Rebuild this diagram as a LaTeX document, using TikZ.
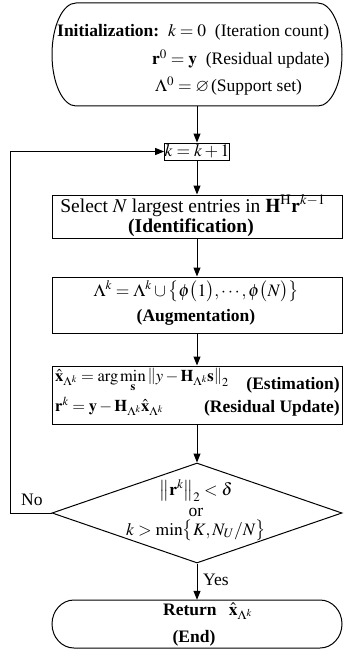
\documentclass[tikz,border=0pt]{standalone}
\usepackage{mathptmx}
\usepackage{amssymb}
\usepackage{fontspec}
\setmainfont{Liberation Serif}
\usetikzlibrary{arrows.meta,shapes.geometric}
\begin{document}
\begin{tikzpicture}[x=1pt,y=-1pt,
  every node/.style={font=\fontsize{17.5}{20}\selectfont, inner sep=0pt},
  bigtext/.style={font=\fontsize{19.5}{22}\selectfont},
  line/.style={line width=1pt},
  arr/.style={line width=1pt,-{Triangle[length=9pt,width=7pt]}},
  procbox/.style={draw, line width=1pt, minimum width=290pt},
  anchorbox/.style={minimum width=290pt}]
\useasboundingbox (0,0) rectangle (343,650);

% start terminal
\draw[line] (76,3) -- (318,3) arc[start angle=-90,end angle=90,x radius=24,y radius=51.5]
  -- (76,106) arc[start angle=90,end angle=270,x radius=24,y radius=51.5] -- cycle;
\node[anchorbox, minimum height=103pt] (start) at (197,54.5) {};
\node[anchor=base west] (s1) at (57,37) {\textbf{Initialization:}\enspace$k=0$\enspace(Iteration count)};
\node[anchor=base west] (s2) at (152,65) {$\mathbf{r}^{0}=\mathbf{y}$\enspace(Residual update)};
\node[anchor=base west] (s3) at (155,92) {$\Lambda^{0}=\varnothing\,$(Support set)};

% k = k+1
\node[draw, line width=1pt, minimum width=64pt, minimum height=17pt] (kk) at (197,151.5) {$k=k+1$};

% identification
\node[procbox, minimum height=43pt] (sel) at (197,216.5) {};
\node[anchor=base, bigtext] (sel1) at (193,212) {Select $N$ largest entries in $\mathbf{H}^{\mathrm{H}}\mathbf{r}^{k-1}$};
\node[anchor=base, bigtext] (sel2) at (191,232) {\textbf{(Identification)}};

% augmentation
\node[procbox, minimum height=56pt] (aug) at (197,305) {};
\node[anchor=base] (aug1) at (196,296) {$\Lambda^{k}=\Lambda^{k}\cup\bigl\{\phi\bigl(1\bigr),\cdots,\phi\bigl(N\bigr)\bigr\}$};
\node[anchor=base] (aug2) at (196,321) {\textbf{(Augmentation)}};

% estimation
\node[procbox, minimum height=58pt] (est) at (197,395) {};
\node[anchor=base west, font=\fontsize{16.5}{19}\selectfont] (est1) at (55,381) {$\hat{\mathbf{x}}_{\Lambda^{k}}=\arg\min\limits_{\mathbf{s}}\left\|y-\mathbf{H}_{\Lambda^{k}}\mathbf{s}\right\|_{2}$};
\node[anchor=base east] (est1r) at (340,389) {\textbf{(Estimation)}};
\node[anchor=base west, font=\fontsize{16.5}{19}\selectfont] (est2) at (55,411) {$\mathbf{r}^{k}=\mathbf{y}-\mathbf{H}_{\Lambda^{k}}\hat{\mathbf{x}}_{\Lambda^{k}}$};
\node[anchor=base east] (est2r) at (340,412) {\textbf{(Residual Update)}};

% decision
\node[diamond, draw, line width=1pt, minimum width=290pt, minimum height=100pt] (dia) at (197,513) {};
\node[anchor=base] (d1) at (196,495) {$\left\|\mathbf{r}^{k}\right\|_{2}<\delta$};
\node[anchor=base] (d2) at (196,516) {or};
\node[anchor=base] (d3) at (196,535) {$k>\min\bigl\{K,N_{U}/N\bigr\}$};

% end terminal
\draw[line] (74,600) -- (320,600) arc[start angle=-90,end angle=90,x radius=22,y radius=24]
  -- (74,648) arc[start angle=90,end angle=270,x radius=22,y radius=24] -- cycle;
\node[anchorbox, minimum height=48pt] (fin) at (197,624) {};
\node[anchor=base west] (e1) at (163,615) {\textbf{Return}\hspace{0.7em}$\hat{\mathbf{x}}_{\Lambda^{k}}$};
\node[anchor=base] (e2) at (194,642) {\textbf{(End)}};

% connectors
\draw[arr] (start.south) -- (kk.north);
\draw[arr] (kk.south) -- (sel.north);
\draw[arr] (sel.south) -- (aug.north);
\draw[arr] (aug.south) -- (est.north);
\draw[arr] (est.south) -- (dia.north);
\draw[arr] (dia.south) -- (fin.north);
\coordinate (lp) at (10,513);
\draw[arr] (dia.west) -- (lp) |- (kk.west);
\node[anchor=base west] (no) at (21,505) {No};
\node[anchor=base west] (yes) at (203,585) {Yes};
\end{tikzpicture}
\end{document}
